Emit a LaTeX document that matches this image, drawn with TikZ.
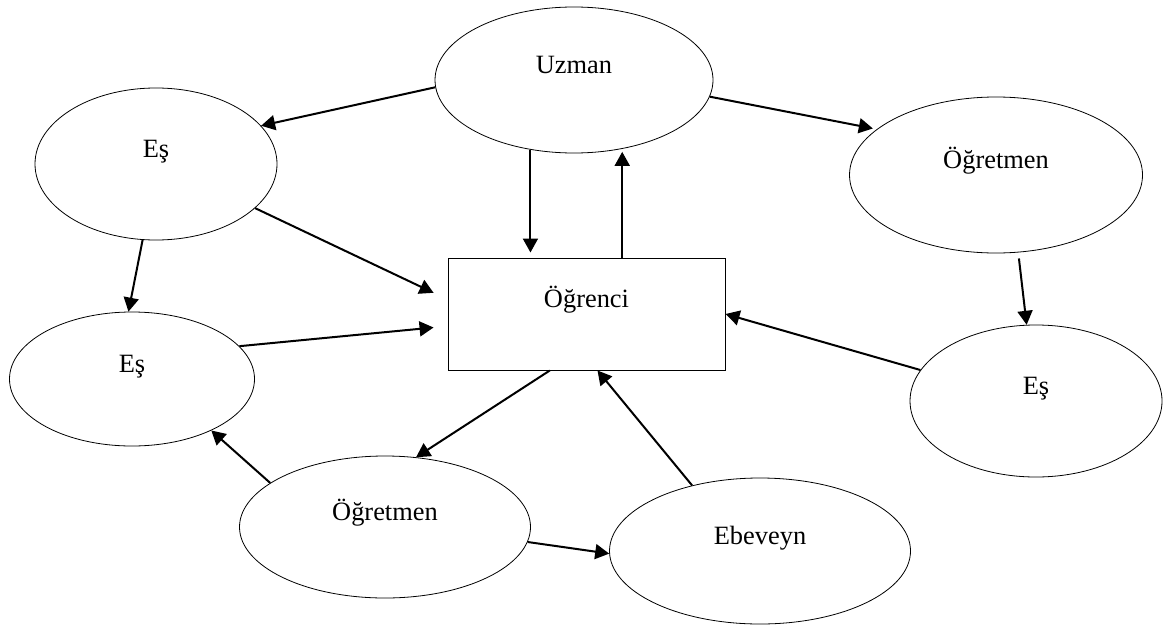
\documentclass[tikz,border=0pt]{standalone}
\usepackage{fontspec}
\setmainfont{Liberation Serif}
\usetikzlibrary{shapes.geometric, arrows.meta}
\tikzset{bubble/.style 2 args={
    ellipse, draw, line width=0.4pt, inner sep=0pt,
    minimum width=#1, minimum height=#2,
    text height=0pt, text depth=6.5pt
  },
  box/.style={rectangle, draw, line width=0.5pt, inner sep=0pt,
    minimum width=138.5pt, minimum height=56pt,
    text height=0pt, text depth=6.5pt},
  link/.style={line width=1pt, -{Triangle[length=7pt,width=7.5pt]}}
}

\begin{document}
\begin{tikzpicture}[x=0.5pt, y=-0.5pt, font=\fontsize{13.2}{16}\selectfont]
      \useasboundingbox (0,0) rectangle (1170,626);
      \node[bubble={139pt}{73pt}] (uzman) at (574,80) {Uzman};
      \node[bubble={121pt}{76pt}] (esA) at (156,164) {Eş};
      \node[bubble={146.5pt}{78pt}] (ogretmenA) at (996,175) {Öğretmen};
      \node[bubble={122.5pt}{67pt}] (esB) at (132,379) {Eş};
      \node[bubble={126pt}{76pt}] (esC) at (1036,401) {Eş};
      \node[bubble={145.5pt}{71pt}] (ogretmenB) at (385,527) {Öğretmen};
      \node[bubble={150.5pt}{73pt}] (ebeveyn) at (760,551) {Ebeveyn};
      \node[box] (ogrenci) at (586.5,314) {Öğrenci};
      % uzman
      \draw[link] (uzman.183) -- (esA.20);
      \draw[link, shorten >=2pt] (uzman.353) -- (ogretmenA.159);
      \draw[link, shorten >=2.5pt] (uzman.238) -- (uzman.238 |- ogrenci.north);
      \draw[link, shorten >=1.5pt] (uzman.305 |- ogrenci.north) -- (uzman.305);
      % left side
      \draw[link, shorten >=7.7pt] (esA.336) -- (ogrenci.174);
      \draw[link] (esA.260) -- (esB.93);
      \draw[link, shorten >=7pt] (esB.17) -- (ogrenci.185);
      % right side
      \draw[link, shorten <=3pt] (ogretmenA.286) -- (esC.97);
      \draw[link] (esC.165) -- (ogrenci.east);
      % bottom
      \draw[link] (ogrenci.237) -- (ogretmenB.66);
      \draw[link] (ogretmenB.159) -- (esB.327);
      \draw[link] (ogretmenB.354) -- (ebeveyn.181);
      \draw[link] (ebeveyn.136) -- (ogrenci.281);
    \end{tikzpicture}
\end{document}
